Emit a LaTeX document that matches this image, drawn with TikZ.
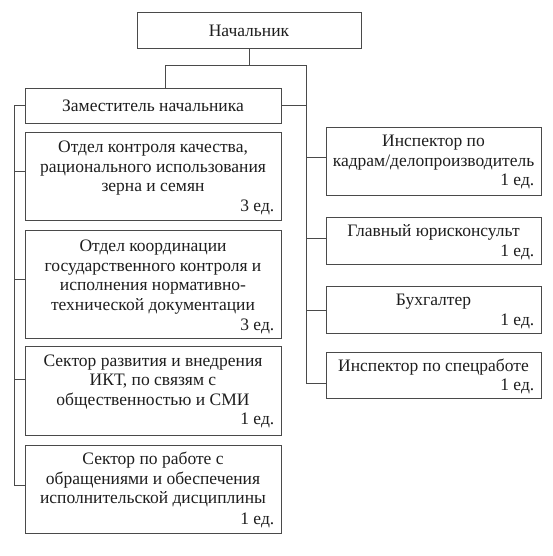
\documentclass[tikz,border=0pt]{standalone}
\usepackage{fontspec}
\setmainfont{Liberation Serif}
\newcommand\orgfs{\fontsize{17.5}{19.5}\selectfont}
\definecolor{linec}{HTML}{4A4A4A}
\definecolor{textc}{HTML}{1E1E1E}
\tikzset{
  box/.style={draw=linec, line width=0.9pt, inner sep=0pt, outer sep=0pt},
  txt/.style={font=\orgfs, text=textc, inner sep=0pt, align=center, anchor=north},
  one/.style={font=\orgfs, text=textc, inner sep=0pt, anchor=base},
  cnt/.style={font=\orgfs, text=textc, inner sep=0pt, anchor=base east},
  conn/.style={draw=linec, line width=0.9pt},
}
\begin{document}
\begin{tikzpicture}[x=1pt,y=-1pt]
\useasboundingbox[fill=white] (0,0) rectangle (553,556);
% boxes
\node[box, minimum width=224pt, minimum height=35.9pt] (nach) at (249,30.55) {};
\node[box, minimum width=256pt, minimum height=35.5pt] (dep) at (153,105.75) {};
\node[box, minimum width=256pt, minimum height=88pt] (b1) at (153,176) {};
\node[box, minimum width=256pt, minimum height=108pt] (b2) at (153,284) {};
\node[box, minimum width=256pt, minimum height=88.5pt] (b3) at (153,390.75) {};
\node[box, minimum width=256pt, minimum height=88pt] (b4) at (153,489) {};
\node[box, minimum width=215pt, minimum height=68.5pt] (r1) at (433.5,161.25) {};
\node[box, minimum width=215pt, minimum height=47pt] (r2) at (433.5,240.5) {};
\node[box, minimum width=215pt, minimum height=47.5pt] (r3) at (433.5,309.75) {};
\node[box, minimum width=215pt, minimum height=46pt] (r4) at (433.5,375) {};
% texts
\node[one] (nacht) at (249,36.7) {Начальник};
\node[one] (dept) at (153,111.5) {Заместитель начальника};
\node[txt] (b1t) at (153,139.05) {\strut Отдел контроля качества,\\рационального использования\\зерна и семян};
\node[cnt] (b1c) at (274.5,211.7) {3 ед.};
\node[txt] (b2t) at (153,238.05) {\strut Отдел координации\\государственного контроля и\\исполнения нормативно-\\технической документации};
\node[cnt] (b2c) at (274.5,330) {3 ед.};
\node[txt] (b3t) at (153,352.35) {\strut Сектор развития и внедрения\\ИКТ, по связям с\\общественностью и СМИ};
\node[cnt] (b3c) at (274.5,424.8) {1 ед.};
\node[txt] (b4t) at (153,450.65) {\strut Сектор по работе с\\обращениями и обеспечения\\исполнительской дисциплины};
\node[cnt] (b4c) at (274.5,524.5) {1 ед.};
\node[txt] (r1t) at (433.5,133.05) {\strut Инспектор по\\кадрам/делопроизводитель};
\node[cnt] (r1c) at (534.5,185.5) {1 ед.};
\node[one] (r2t) at (433.5,236.7) {Главный юрисконсульт};
\node[cnt] (r2c) at (534.5,256.5) {1 ед.};
\node[one] (r3t) at (433.5,305.5) {Бухгалтер};
\node[cnt] (r3c) at (534.5,325.5) {1 ед.};
\node[one] (r4t) at (433.5,371) {Инспектор по спецработе};
\node[cnt] (r4c) at (534.5,390.5) {1 ед.};
% junction coordinates
\coordinate (hl) at (165.5,65.5);
\coordinate (hr) at (306.7,65.5);
\coordinate (lt) at (14.7,105.75);
\coordinate (lb) at (14.7,485);
\coordinate (l1) at (14.7,171);
\coordinate (l2) at (14.7,279);
\coordinate (l3) at (14.7,379);
\coordinate (q1) at (306.7,157.3);
\coordinate (q2) at (306.7,238);
\coordinate (q3) at (306.7,310);
\coordinate (rb) at (306.7,383);
% connectors
\draw[conn] (nach.south) -- (nach.south |- hl);
\draw[conn] (dep.north -| hl) -- (hl) -- (hr) -- (rb) -- (rb -| r4.west);
\draw[conn] (dep.east) -- (dep.east -| hr);
\draw[conn] (dep.west) -- (lt) -- (lb) -- (lb -| b4.west);
\draw[conn] (l1) -- (l1 -| b1.west);
\draw[conn] (l2) -- (l2 -| b2.west);
\draw[conn] (l3) -- (l3 -| b3.west);
\draw[conn] (q1) -- (q1 -| r1.west);
\draw[conn] (q2) -- (q2 -| r2.west);
\draw[conn] (q3) -- (q3 -| r3.west);
\end{tikzpicture}
\end{document}
